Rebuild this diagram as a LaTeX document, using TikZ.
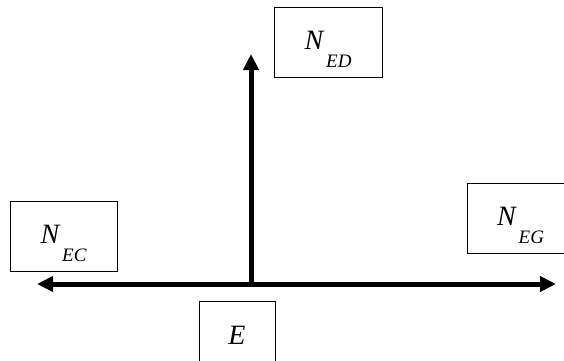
\documentclass[tikz,border=0pt]{standalone}
\usepackage{fontspec}
\setmainfont{Liberation Serif}
\usetikzlibrary{arrows.meta}
\newcommand{\fuerza}[2]{{\fontsize{28}{28}\selectfont\itshape #1}\hspace{3pt}%
  \raisebox{-18pt}{\fontsize{19}{19}\selectfont\itshape #2}}

\begin{document}
\begin{tikzpicture}[x=1pt, y=1pt,
    caja/.style={draw, line width=1pt, minimum width=107pt, minimum height=70pt,
                 text height=32pt, text depth=18pt, inner sep=0pt},
    eje/.style={line width=5pt, -{Triangle[length=16pt, width=15pt]}}]
        \useasboundingbox (0,0) rectangle (564,360);
        % origen y extremos de los ejes
        \coordinate (o) at (251,76);
        \coordinate (oeste) at (37,76);
        \coordinate (este) at (556,76);
        \coordinate (norte) at (251,306);
        % ejes
        \draw[eje, {Triangle[length=16pt, width=15pt]}-{Triangle[length=16pt, width=15pt]}] (oeste) -- (este);
        \draw[eje] (o) -- (norte);
        % cajas de las fuerzas
        \node[caja, minimum width=108pt] (ned) at (328,318) {\fuerza{N}{ED}};
        \node[caja] (nec) at (63.5,124) {\fuerza{N}{EC}};
        \node[caja] (neg) at (520.5,141.5) {\fuerza{N}{EG}};
        % nudo
        \node[caja, minimum width=76pt, text height=20pt, text depth=4pt] (e) at (237,24)
              {\fontsize{28}{28}\selectfont\itshape E};
      \end{tikzpicture}
\end{document}
